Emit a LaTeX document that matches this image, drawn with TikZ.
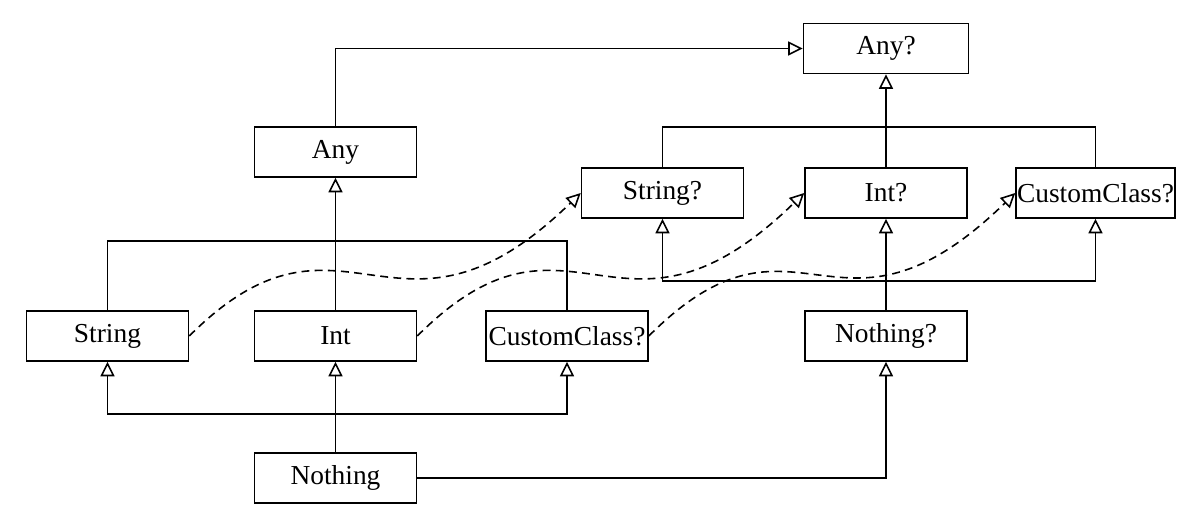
\documentclass[tikz,border=0pt]{standalone}
\usepackage{fontspec}
\setmainfont{Liberation Serif}
\usetikzlibrary{arrows.meta}
\begin{document}
\begin{tikzpicture}[
  box/.style={draw, line width=0.9pt, minimum width=3.24cm, minimum height=1cm, inner sep=0pt, font=\fontsize{15.6}{18}\selectfont},
  conn/.style={line width=0.9pt},
  tip/.tip={Triangle[open, length=2.9mm, width=2.8mm, line width=0.9pt]},
  arr/.style={conn, -tip},
  arrs/.style={conn, tip-tip},
  dsh/.style={conn, -tip, dash pattern=on 4.5pt off 3pt}
]
\useasboundingbox (0,0) rectangle (24,-10.36);
\node[box, minimum width=3.3cm] (AnyQ) at (17.72,-0.97) {Any?};
\node[box] (Any) at (6.71,-3.04) {Any};
\node[box] (StringQ) at (13.25,-3.86) {String?};
\node[box] (IntQ) at (17.72,-3.86) {Int?};
\node[box, minimum width=3.18cm] (CustQ) at (21.91,-3.86) {CustomClass?};
\node[box] (String) at (2.15,-6.72) {String};
\node[box] (Int) at (6.71,-6.72) {Int};
\node[box] (CustL) at (11.34,-6.72) {CustomClass?};
\node[box] (NothingQ) at (17.72,-6.72) {Nothing?};
\node[box] (Nothing) at (6.71,-9.56) {Nothing};

% upper hierarchy
\draw[arr] (Any.north) |- (AnyQ.west);
\draw[arr] (IntQ.north) -- (AnyQ.south);
\draw[conn] (StringQ.north) -- ++(0,0.8) -| (CustQ.north);
\draw[conn] (String.north) -- ++(0,1.38) -| (CustL.north);
\draw[arr] (Int.north) -- (Any.south);

% lower hierarchy
\draw[arr] (Nothing.north) -- (Int.south);
\draw[arrs] (String.south) -- ++(0,-1.04) -| (CustL.south);
\draw[arr] (NothingQ.north) -- (IntQ.south);
\draw[arrs] (StringQ.south) -- ++(0,-1.24) -| (CustQ.south);
\draw[arr] (Nothing.east) -| (NothingQ.south);

% dashed curves
\draw[dsh] (String.east) .. controls +(3.1,3.1) and +(-3.7,-3.6) .. (StringQ.west);
\draw[dsh] (Int.east) .. controls +(3.1,3.1) and +(-3.7,-3.6) .. (IntQ.west);
\draw[dsh] (CustL.east) .. controls +(3,3) and +(-3.6,-3.5) .. (CustQ.west);
\end{tikzpicture}
\end{document}
